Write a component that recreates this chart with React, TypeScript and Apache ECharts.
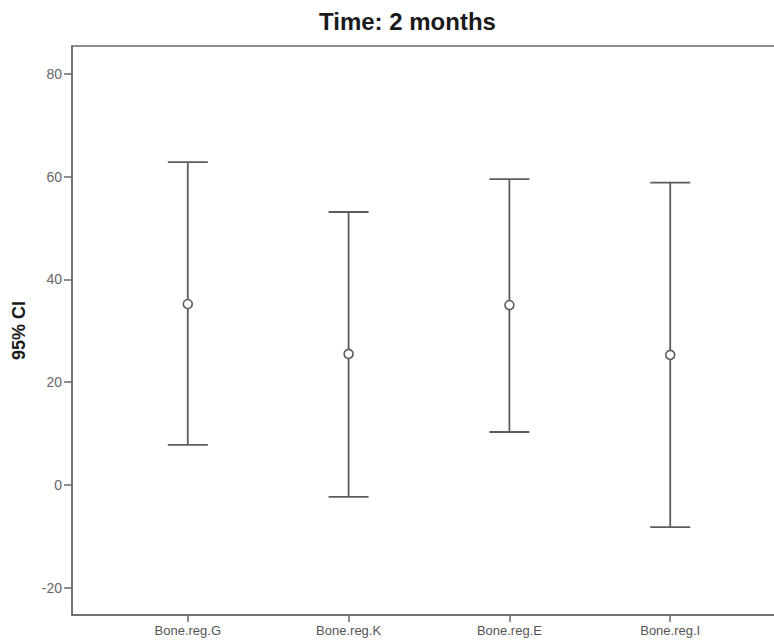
import React, { useEffect, useRef } from "react";
import * as echarts from "echarts";

const categories = ["Bone.reg.G", "Bone.reg.K", "Bone.reg.E", "Bone.reg.I"];
const means = [35.2, 25.5, 35.0, 25.3];
const lowerCI = [7.8, -2.3, 10.3, -8.2];
const upperCI = [62.8, 53.1, 59.5, 58.8];
const yTicks = [-20, 0, 20, 40, 60, 80];
const xTicks = [0, 1, 2, 3];

export default function App() {
  const ref = useRef<HTMLDivElement>(null);
  useEffect(() => {
    if (!ref.current) return;
    const chart = echarts.init(ref.current, undefined, { renderer: "svg" });
    const data = categories.map((_, i) => [i, lowerCI[i], upperCI[i], means[i]]);
    const lineColor = "#5c5c5c";
    chart.setOption({
      animation: false,
      backgroundColor: "#ffffff",
      title: {
        text: "Time: 2 months",
        left: 314,
        top: 4,
        textStyle: { fontFamily: "Liberation Sans", fontSize: 24, fontWeight: "bold", color: "#1a1a1a" },
      },
      grid: {
        left: 72,
        top: 46,
        right: 14,
        bottom: 26,
        show: true,
        borderColor: "#6a6a6a",
        borderWidth: 1.5,
      },
      xAxis: {
        type: "value",
        min: -0.72,
        max: 3.72,
        axisLine: { show: true, onZero: false, lineStyle: { color: "#6a6a6a", width: 1.5 } },
        axisTick: { show: true, customValues: xTicks, length: 7, lineStyle: { color: "#6a6a6a", width: 1.5 } },
        axisLabel: {
          customValues: xTicks,
          formatter: (v: number) => categories[Math.round(v)] ?? "",
          fontFamily: "Liberation Sans",
          fontSize: 13,
          color: "#555",
          margin: 9,
        },
        splitLine: { show: false },
      },
      yAxis: {
        type: "value",
        min: -25.3,
        max: 85.4,
        name: "95% CI",
        nameLocation: "middle",
        nameGap: 44,
        nameTextStyle: { fontFamily: "Liberation Sans", fontSize: 18, fontWeight: "bold", color: "#1a1a1a" },
        axisLine: { show: true, onZero: false, lineStyle: { color: "#6a6a6a", width: 1.5 } },
        axisTick: { show: true, customValues: yTicks, length: 8, lineStyle: { color: "#6a6a6a", width: 1.5 } },
        axisLabel: {
          customValues: yTicks,
          fontFamily: "Liberation Sans",
          fontSize: 14,
          color: "#666",
          margin: 10,
        },
        splitLine: { show: false },
      },
      series: [
        {
          type: "custom",
          data,
          renderItem: (params: any, api: any) => {
            const x = api.value(0);
            const pHi = api.coord([x, api.value(2)]);
            const pLo = api.coord([x, api.value(1)]);
            const pM = api.coord([x, api.value(3)]);
            const hw = 20;
            const ls = { stroke: lineColor, lineWidth: 1.8 };
            return {
              type: "group",
              children: [
                { type: "line", shape: { x1: pHi[0], y1: pHi[1], x2: pLo[0], y2: pLo[1] }, style: ls },
                { type: "line", shape: { x1: pHi[0] - hw, y1: pHi[1], x2: pHi[0] + hw, y2: pHi[1] }, style: ls },
                { type: "line", shape: { x1: pLo[0] - hw, y1: pLo[1], x2: pLo[0] + hw, y2: pLo[1] }, style: ls },
                {
                  type: "circle",
                  shape: { cx: pM[0], cy: pM[1], r: 4.5 },
                  style: { fill: "#ffffff", stroke: lineColor, lineWidth: 1.6 },
                },
              ],
            };
          },
        },
      ],
    });
    return () => chart.dispose();
  }, []);
  return (
    <div style={{ position: "fixed", left: 0, top: 0, width: 774, height: 641, overflow: "hidden", background: "#fff" }}>
      <div ref={ref} style={{ width: 800, height: 641 }} />
    </div>
  );
}
